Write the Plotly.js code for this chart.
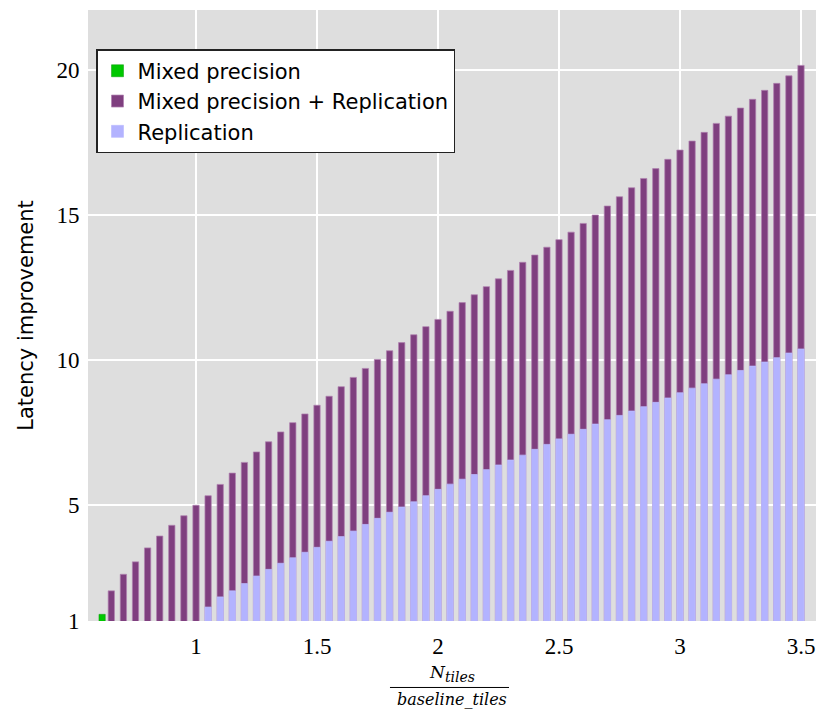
<!DOCTYPE html>
<html>
<head>
<meta charset="utf-8">
<script src="https://cdn.plot.ly/plotly-3.0.1.min.js"></script>
<style>html,body{margin:0;padding:0;background:#fff;}#chart{width:832px;height:710px;}</style>
</head>
<body>
<div id="chart"></div>
<script>
// Tile ratios (N_tiles / baseline_tiles) for the combined series
const ratioMixedRepl = [0.65,0.70,0.75,0.80,0.85,0.90,0.95,1.00,
  1.05,1.10,1.15,1.20,1.25,1.30,1.35,1.40,1.45,1.50,1.55,1.60,1.65,1.70,1.75,1.80,1.85,1.90,1.95,2.00,
  2.05,2.10,2.15,2.20,2.25,2.30,2.35,2.40,2.45,2.50,2.55,2.60,2.65,2.70,2.75,2.80,2.85,2.90,2.95,3.00,
  3.05,3.10,3.15,3.20,3.25,3.30,3.35,3.40,3.45,3.50];
const valMixedRepl = [2.04,2.61,3.04,3.52,3.93,4.30,4.63,4.99,
  5.32,5.71,6.10,6.47,6.83,7.18,7.52,7.84,8.14,8.44,8.75,9.08,9.40,9.71,10.02,10.32,10.60,10.87,11.15,11.40,
  11.68,11.98,12.25,12.53,12.80,13.09,13.37,13.62,13.89,14.15,14.41,14.71,15.00,15.31,15.63,15.94,16.26,16.60,16.92,17.24,
  17.55,17.85,18.16,18.41,18.69,18.99,19.30,19.54,19.80,20.16];

// Replication only
const ratioRepl = [1.05,1.10,1.15,1.20,1.25,1.30,1.35,1.40,1.45,1.50,1.55,1.60,1.65,1.70,1.75,1.80,1.85,1.90,1.95,2.00,
  2.05,2.10,2.15,2.20,2.25,2.30,2.35,2.40,2.45,2.50,2.55,2.60,2.65,2.70,2.75,2.80,2.85,2.90,2.95,3.00,
  3.05,3.10,3.15,3.20,3.25,3.30,3.35,3.40,3.45,3.50];
const valRepl = [1.48,1.83,2.04,2.29,2.55,2.78,2.99,3.18,3.37,3.54,3.75,3.91,4.10,4.33,4.54,4.75,4.93,5.11,5.32,5.54,
  5.72,5.89,6.05,6.22,6.38,6.55,6.72,6.92,7.09,7.28,7.44,7.61,7.79,7.94,8.09,8.24,8.39,8.54,8.69,8.87,
  9.03,9.18,9.34,9.49,9.64,9.79,9.93,10.08,10.24,10.38];

// Mixed precision only
const ratioMixed = [0.612];
const valMixed = [1.23];

const xTickVals = [1,1.5,2,2.5,3,3.5];
const xTickText = ["1","1.5","2","2.5","3","3.5"];
const yTickVals = [1,5,10,15,20];
const yTickText = ["1","5","10","15","20"];

const barW = 0.026;

const traces = [
  {type:'bar', name:'Mixed precision + Replication', x:ratioMixedRepl, y:valMixedRepl, width:barW,
   marker:{color:'#7f3f7f', line:{color:'rgba(175,130,175,0.9)', width:0.8}}, legendrank:2},
  {type:'bar', name:'Replication', x:ratioRepl, y:valRepl, width:barW,
   marker:{color:'#b3b3ff', line:{color:'rgba(190,190,255,0.9)', width:0.8}}, legendrank:3},
  {type:'bar', name:'Mixed precision', x:ratioMixed, y:valMixed, width:barW,
   marker:{color:'#00c800', line:{color:'rgba(0,150,0,0.6)', width:0.8}}, legendrank:1}
];

const layout = {
  width:832, height:710,
  margin:{l:88, r:16, t:10, b:89},
  paper_bgcolor:'#ffffff', plot_bgcolor:'#dedede',
  barmode:'overlay', bargap:0,
  showlegend:true,
  legend:{x:0.011, y:0.936, xanchor:'left', yanchor:'top', bgcolor:'#ffffff',
          bordercolor:'#222222', borderwidth:1.5,
          font:{family:'DejaVu Sans', size:21, color:'#000'}, traceorder:'normal'},
  xaxis:{range:[0.5537,3.562], tickvals:xTickVals, ticktext:xTickText,
         showgrid:true, gridcolor:'#ffffff', gridwidth:1.5, zeroline:false,
         ticks:'outside', ticklen:4, tickcolor:'rgba(0,0,0,0)',
         tickfont:{family:'Liberation Serif', size:23, color:'#000'}, showline:false},
  yaxis:{range:[1,22.07], tickvals:yTickVals, ticktext:yTickText,
         showgrid:true, gridcolor:'#ffffff', gridwidth:1.5, zeroline:false,
         ticks:'outside', ticklen:3, tickcolor:'rgba(0,0,0,0)',
         tickfont:{family:'Liberation Serif', size:23, color:'#000'}, showline:false,
         title:{text:'Latency improvement', font:{family:'DejaVu Sans', size:21, color:'#000'}, standoff:17}},
  annotations:[
    {xref:'paper', yref:'paper', x:0.5, y:-0.1062, xanchor:'center', yanchor:'bottom', showarrow:false,
     borderpad:0,
     text:'<i>N<sub><span style="font-size:14px">tiles</span></sub></i>',
     font:{family:'DejaVu Serif', size:17, color:'#000'}},
    {xref:'paper', yref:'paper', x:0.5, y:-0.1115, xanchor:'center', yanchor:'top', showarrow:false,
     borderpad:0,
     text:'<i>baseline_tiles</i>', font:{family:'DejaVu Serif', size:16, color:'#000'}}
  ],
  shapes:[
    {type:'line', xref:'paper', yref:'paper', x0:0.4148, x1:0.5783, y0:-0.1088, y1:-0.1088,
     line:{color:'#000', width:1}}
  ]
};

Plotly.newPlot('chart', traces, layout, {displayModeBar:false, staticPlot:true});
</script>
</body>
</html>
